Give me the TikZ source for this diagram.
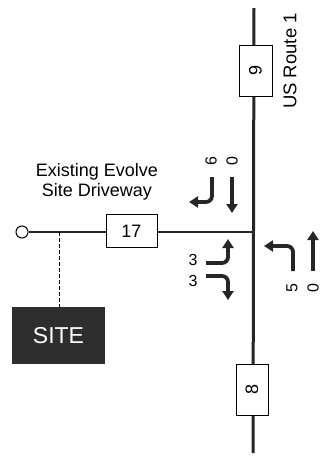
\documentclass[tikz,border=0pt]{standalone}
\usepackage{fontspec}
\setmainfont{Liberation Sans}
\usetikzlibrary{arrows.meta}
\begin{document}
\begin{tikzpicture}[x=1pt,y=-1pt,
  cntbox/.style={draw=black,line width=0.9pt,fill=white,inner sep=0pt,font=\fontsize{18}{18}\selectfont},
  vol/.style={font=\fontsize{16}{16}\selectfont,inner sep=0pt,rotate=90},
  mv/.style={line width=3.8pt,color=black!85,rounded corners=6pt,-{Triangle[width=11pt,length=9pt]}},
  road/.style={line width=3pt,color=black!85},
  drive/.style={line width=1.4pt,color=black!85}]
\useasboundingbox (0,0) rectangle (336,459);
% road
\coordinate (rtop) at (254,8);
\coordinate (rbot) at (253,453);
\coordinate (int) at (254,232);
\draw[road] (rtop) -- (rbot);
\node[cntbox,minimum width=33pt,minimum height=51pt] (b9) at (255.5,70.5) {\rotatebox{90}{9}};
\node[cntbox,minimum width=32pt,minimum height=51pt] (b8) at (252,389.5) {\rotatebox{90}{8}};
\node[vol,font=\fontsize{18.5}{18.5}\selectfont] (route) at (290,61) {US Route 1};
% driveway
\node[draw=black,line width=1pt,fill=white,circle,minimum size=12pt,inner sep=0pt] (end) at (22,232) {};
\coordinate (dj) at (59,232);
\draw[drive] (end) -- (int);
\node[cntbox,minimum width=51pt,minimum height=33pt] (b17) at (131.5,231) {17};
\node[align=center,font=\fontsize{18}{20}\selectfont,inner sep=0pt] (lbl) at (97,182) {Existing Evolve\\Site Driveway};
\node[fill=black!82,minimum width=93pt,minimum height=57pt,inner sep=0pt,text=white,font=\fontsize{23}{23}\selectfont] (site) at (58.5,335.5) {SITE};
\draw[line width=0.8pt,dash pattern=on 4pt off 2pt] (dj) -- (site.north-|dj);
% southbound movements
\node[vol] (v6) at (211,161) {6};
\node[vol] (v0a) at (232,161) {0};
\coordinate (sr1) at (212,177);
\coordinate (sr2) at (212,202);
\coordinate (sr3) at (189,202);
\draw[mv] (sr1) -- (sr2) -- (sr3);
\coordinate (st1) at (232,177);
\coordinate (st2) at (232,213);
\draw[mv] (st1) -- (st2);
% eastbound (driveway) movements
\node[vol,rotate=-90] (v3a) at (193,260) {3};
\node[vol,rotate=-90] (v3b) at (193,281) {3};
\coordinate (el1) at (206,263);
\coordinate (el2) at (228,263);
\coordinate (el3) at (228,239);
\draw[mv] (el1) -- (el2) -- (el3);
\coordinate (er1) at (206,276);
\coordinate (er2) at (228,276);
\coordinate (er3) at (228,300);
\draw[mv] (er1) -- (er2) -- (er3);
% northbound movements
\coordinate (nl1) at (293,271);
\coordinate (nl2) at (293,246);
\coordinate (nl3) at (264,246);
\draw[mv] (nl1) -- (nl2) -- (nl3);
\coordinate (nt1) at (313,271);
\coordinate (nt2) at (313,231);
\draw[mv] (nt1) -- (nt2);
\node[vol] (v5) at (292,288) {5};
\node[vol] (v0b) at (313,288) {0};
\end{tikzpicture}
\end{document}
